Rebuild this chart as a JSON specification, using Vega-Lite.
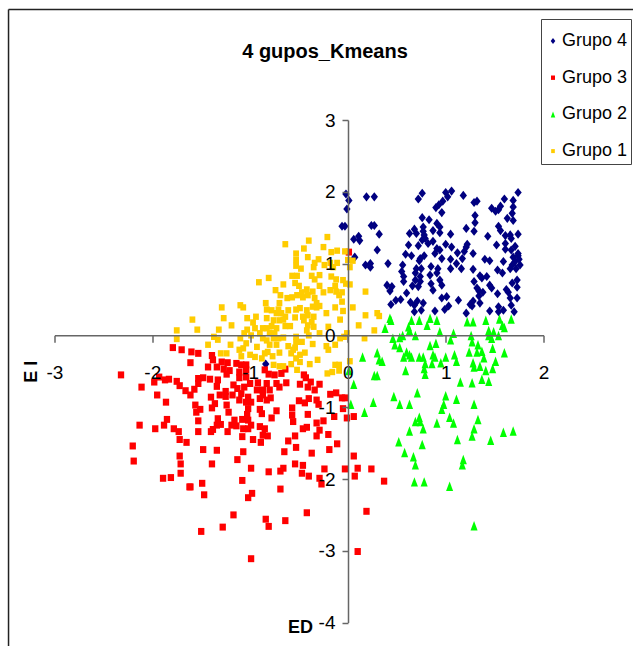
{"$schema":"https://vega.github.io/schema/vega-lite/v6.json","width":489,"height":502.6,"autosize":{"type":"none"},"padding":{"left":54.5,"top":120,"right":89.5,"bottom":23.4},"background":"white","config":{"view":{"stroke":null},"font":"Liberation Sans"},
"title":{"text":"4 gupos_Kmeans","font":"Liberation Sans","fontSize":20,"fontWeight":"bold","color":"black","anchor":"middle","dx":26,"offset":-53},
"datasets":{"pts":[
{"g":"Grupo 4","x":-0.02,"y":1.97},{"g":"Grupo 4","x":0.01,"y":1.88},{"g":"Grupo 4","x":-0.01,"y":1.76},{"g":"Grupo 4","x":0.19,"y":1.93},{"g":"Grupo 4","x":0.27,"y":1.93},{"g":"Grupo 4","x":0.76,"y":1.98},{"g":"Grupo 4","x":0.72,"y":1.9},{"g":"Grupo 4","x":1.0,"y":1.99},{"g":"Grupo 4","x":1.06,"y":2.01},{"g":"Grupo 4","x":1.02,"y":1.93},{"g":"Grupo 4","x":1.18,"y":1.95},{"g":"Grupo 4","x":0.97,"y":1.87},{"g":"Grupo 4","x":0.93,"y":1.82},{"g":"Grupo 4","x":0.9,"y":1.78},{"g":"Grupo 4","x":0.96,"y":1.71},{"g":"Grupo 4","x":1.29,"y":1.85},{"g":"Grupo 4","x":1.32,"y":1.87},{"g":"Grupo 4","x":1.6,"y":1.9},{"g":"Grupo 4","x":1.69,"y":1.88},{"g":"Grupo 4","x":1.74,"y":1.99},{"g":"Grupo 4","x":1.47,"y":1.77},{"g":"Grupo 4","x":1.51,"y":1.73},{"g":"Grupo 4","x":1.56,"y":1.8},{"g":"Grupo 4","x":1.54,"y":1.75},{"g":"Grupo 4","x":1.69,"y":1.79},{"g":"Grupo 4","x":1.68,"y":1.7},{"g":"Grupo 4","x":1.63,"y":1.63},{"g":"Grupo 4","x":1.69,"y":1.6},{"g":"Grupo 4","x":1.3,"y":1.67},{"g":"Grupo 4","x":1.3,"y":1.57},{"g":"Grupo 4","x":0.76,"y":1.64},{"g":"Grupo 4","x":0.83,"y":1.61},{"g":"Grupo 4","x":0.91,"y":1.56},{"g":"Grupo 4","x":0.94,"y":1.51},{"g":"Grupo 4","x":0.77,"y":1.51},{"g":"Grupo 4","x":0.68,"y":1.48},{"g":"Grupo 4","x":0.63,"y":1.42},{"g":"Grupo 4","x":0.7,"y":1.42},{"g":"Grupo 4","x":0.87,"y":1.46},{"g":"Grupo 4","x":0.94,"y":1.43},{"g":"Grupo 4","x":1.05,"y":1.41},{"g":"Grupo 4","x":1.21,"y":1.49},{"g":"Grupo 4","x":1.29,"y":1.45},{"g":"Grupo 4","x":1.54,"y":1.52},{"g":"Grupo 4","x":1.56,"y":1.46},{"g":"Grupo 4","x":1.43,"y":1.38},{"g":"Grupo 4","x":1.74,"y":1.41},{"g":"Grupo 4","x":1.66,"y":1.4},{"g":"Grupo 4","x":1.61,"y":1.39},{"g":"Grupo 4","x":1.67,"y":1.35},{"g":"Grupo 4","x":1.52,"y":1.26},{"g":"Grupo 4","x":1.61,"y":1.28},{"g":"Grupo 4","x":1.61,"y":1.2},{"g":"Grupo 4","x":-0.06,"y":1.52},{"g":"Grupo 4","x":-0.03,"y":1.52},{"g":"Grupo 4","x":0.24,"y":1.53},{"g":"Grupo 4","x":0.27,"y":1.53},{"g":"Grupo 4","x":0.32,"y":1.41},{"g":"Grupo 4","x":0.06,"y":1.34},{"g":"Grupo 4","x":0.11,"y":1.38},{"g":"Grupo 4","x":0.12,"y":1.32},{"g":"Grupo 4","x":0.3,"y":1.19},{"g":"Grupo 4","x":0.07,"y":1.09},{"g":"Grupo 4","x":0.18,"y":0.98},{"g":"Grupo 4","x":0.23,"y":1.0},{"g":"Grupo 4","x":0.23,"y":0.95},{"g":"Grupo 4","x":0.41,"y":1.0},{"g":"Grupo 4","x":0.4,"y":0.7},{"g":"Grupo 4","x":0.45,"y":0.68},{"g":"Grupo 4","x":0.43,"y":0.62},{"g":"Grupo 4","x":0.44,"y":0.43},{"g":"Grupo 4","x":0.49,"y":0.49},{"g":"Grupo 4","x":0.54,"y":0.5},{"g":"Grupo 4","x":0.6,"y":0.59},{"g":"Grupo 4","x":0.64,"y":0.46},{"g":"Grupo 4","x":0.68,"y":0.42},{"g":"Grupo 4","x":0.68,"y":0.33},{"g":"Grupo 4","x":0.71,"y":0.48},{"g":"Grupo 4","x":0.77,"y":0.45},{"g":"Grupo 4","x":0.75,"y":0.35},{"g":"Grupo 4","x":0.89,"y":0.34},{"g":"Grupo 4","x":0.96,"y":0.52},{"g":"Grupo 4","x":1.01,"y":0.54},{"g":"Grupo 4","x":1.03,"y":0.41},{"g":"Grupo 4","x":0.99,"y":0.36},{"g":"Grupo 4","x":1.13,"y":0.49},{"g":"Grupo 4","x":1.25,"y":0.43},{"g":"Grupo 4","x":1.28,"y":0.48},{"g":"Grupo 4","x":1.27,"y":0.41},{"g":"Grupo 4","x":1.21,"y":0.31},{"g":"Grupo 4","x":1.35,"y":0.45},{"g":"Grupo 4","x":1.45,"y":0.34},{"g":"Grupo 4","x":1.54,"y":0.4},{"g":"Grupo 4","x":1.59,"y":0.35},{"g":"Grupo 4","x":1.54,"y":0.33},{"g":"Grupo 4","x":1.7,"y":0.33},{"g":"Grupo 4","x":1.67,"y":0.42},{"g":"Grupo 4","x":1.66,"y":0.52},{"g":"Grupo 4","x":1.73,"y":0.52},{"g":"Grupo 4","x":1.53,"y":0.58},{"g":"Grupo 4","x":1.62,"y":0.64},{"g":"Grupo 4","x":1.64,"y":0.6},{"g":"Grupo 4","x":1.73,"y":0.67},{"g":"Grupo 4","x":1.68,"y":0.73},{"g":"Grupo 4","x":1.73,"y":0.77},{"g":"Grupo 4","x":1.32,"y":0.66},{"g":"Grupo 4","x":1.34,"y":0.62},{"g":"Grupo 4","x":1.38,"y":0.6},{"g":"Grupo 4","x":1.34,"y":0.55},{"g":"Grupo 4","x":1.45,"y":0.7},{"g":"Grupo 4","x":1.47,"y":0.66},{"g":"Grupo 4","x":1.42,"y":0.82},{"g":"Grupo 4","x":1.35,"y":0.83},{"g":"Grupo 4","x":1.37,"y":0.8},{"g":"Grupo 4","x":1.29,"y":0.75},{"g":"Grupo 4","x":1.28,"y":0.92},{"g":"Grupo 4","x":1.16,"y":0.93},{"g":"Grupo 4","x":1.11,"y":1.0},{"g":"Grupo 4","x":1.05,"y":0.93},{"g":"Grupo 4","x":1.05,"y":1.06},{"g":"Grupo 4","x":1.17,"y":1.07},{"g":"Grupo 4","x":1.12,"y":1.15},{"g":"Grupo 4","x":1.19,"y":1.17},{"g":"Grupo 4","x":1.22,"y":1.27},{"g":"Grupo 4","x":1.21,"y":1.23},{"g":"Grupo 4","x":1.28,"y":1.14},{"g":"Grupo 4","x":1.0,"y":1.27},{"g":"Grupo 4","x":1.06,"y":1.23},{"g":"Grupo 4","x":0.91,"y":1.21},{"g":"Grupo 4","x":0.89,"y":1.14},{"g":"Grupo 4","x":0.94,"y":1.19},{"g":"Grupo 4","x":0.96,"y":1.07},{"g":"Grupo 4","x":0.87,"y":1.31},{"g":"Grupo 4","x":0.82,"y":1.28},{"g":"Grupo 4","x":0.79,"y":1.35},{"g":"Grupo 4","x":0.76,"y":1.33},{"g":"Grupo 4","x":0.72,"y":1.25},{"g":"Grupo 4","x":0.62,"y":1.26},{"g":"Grupo 4","x":0.59,"y":1.13},{"g":"Grupo 4","x":0.65,"y":1.11},{"g":"Grupo 4","x":0.74,"y":1.07},{"g":"Grupo 4","x":0.78,"y":1.11},{"g":"Grupo 4","x":0.73,"y":1.04},{"g":"Grupo 4","x":0.56,"y":0.98},{"g":"Grupo 4","x":0.55,"y":0.89},{"g":"Grupo 4","x":0.57,"y":0.82},{"g":"Grupo 4","x":0.57,"y":0.75},{"g":"Grupo 4","x":0.7,"y":0.93},{"g":"Grupo 4","x":0.75,"y":0.93},{"g":"Grupo 4","x":0.69,"y":0.87},{"g":"Grupo 4","x":0.74,"y":0.82},{"g":"Grupo 4","x":0.69,"y":0.77},{"g":"Grupo 4","x":0.74,"y":0.75},{"g":"Grupo 4","x":0.66,"y":0.69},{"g":"Grupo 4","x":0.72,"y":0.68},{"g":"Grupo 4","x":0.85,"y":0.96},{"g":"Grupo 4","x":0.84,"y":0.84},{"g":"Grupo 4","x":0.92,"y":0.93},{"g":"Grupo 4","x":0.91,"y":0.87},{"g":"Grupo 4","x":0.94,"y":0.77},{"g":"Grupo 4","x":0.96,"y":0.7},{"g":"Grupo 4","x":0.85,"y":0.72},{"g":"Grupo 4","x":0.87,"y":0.63},{"g":"Grupo 4","x":1.4,"y":1.06},{"g":"Grupo 4","x":1.45,"y":1.04},{"g":"Grupo 4","x":1.59,"y":1.03},{"g":"Grupo 4","x":1.53,"y":0.91},{"g":"Grupo 4","x":1.58,"y":0.87},{"g":"Grupo 4","x":1.66,"y":0.93},{"g":"Grupo 4","x":1.71,"y":1.24},{"g":"Grupo 4","x":1.67,"y":1.19},{"g":"Grupo 4","x":1.74,"y":1.14},{"g":"Grupo 4","x":1.69,"y":1.09},{"g":"Grupo 4","x":1.75,"y":1.06},{"g":"Grupo 4","x":1.71,"y":1.03},{"g":"Grupo 4","x":1.76,"y":0.98},{"g":"Grupo 4","x":1.72,"y":0.93},{"g":"Grupo 4","x":1.68,"y":0.98},{"g":"Grupo 4","x":1.74,"y":1.11},{"g":"Grupo 4","x":0.77,"y":1.45},{"g":"Grupo 4","x":0.78,"y":1.4},{"g":"Grupo 4","x":-0.84,"y":-0.4},
{"g":"Grupo 3","x":0.01,"y":1.16},{"g":"Grupo 3","x":-2.32,"y":-0.55},{"g":"Grupo 3","x":-2.11,"y":-0.72},{"g":"Grupo 3","x":-1.79,"y":-0.17},{"g":"Grupo 3","x":-1.7,"y":-0.2},{"g":"Grupo 3","x":-1.6,"y":-0.23},{"g":"Grupo 3","x":-1.53,"y":-0.25},{"g":"Grupo 3","x":-1.61,"y":-0.38},{"g":"Grupo 3","x":-1.39,"y":-0.28},{"g":"Grupo 3","x":-1.38,"y":-0.34},{"g":"Grupo 3","x":-1.43,"y":-0.44},{"g":"Grupo 3","x":-1.34,"y":-0.44},{"g":"Grupo 3","x":-1.29,"y":-0.37},{"g":"Grupo 3","x":-1.23,"y":-0.38},{"g":"Grupo 3","x":-1.27,"y":-0.47},{"g":"Grupo 3","x":-1.21,"y":-0.49},{"g":"Grupo 3","x":-1.24,"y":-0.54},{"g":"Grupo 3","x":-1.14,"y":-0.39},{"g":"Grupo 3","x":-1.09,"y":-0.41},{"g":"Grupo 3","x":-1.04,"y":-0.41},{"g":"Grupo 3","x":-1.11,"y":-0.51},{"g":"Grupo 3","x":-1.04,"y":-0.48},{"g":"Grupo 3","x":-1.11,"y":-0.59},{"g":"Grupo 3","x":-1.04,"y":-0.58},{"g":"Grupo 3","x":-0.85,"y":-0.48},{"g":"Grupo 3","x":-0.81,"y":-0.54},{"g":"Grupo 3","x":-0.75,"y":-0.55},{"g":"Grupo 3","x":-0.68,"y":-0.53},{"g":"Grupo 3","x":-0.64,"y":-0.47},{"g":"Grupo 3","x":-0.45,"y":-0.55},{"g":"Grupo 3","x":-0.43,"y":-0.59},{"g":"Grupo 3","x":-1.98,"y":-0.65},{"g":"Grupo 3","x":-1.93,"y":-0.58},{"g":"Grupo 3","x":-1.87,"y":-0.62},{"g":"Grupo 3","x":-1.83,"y":-0.61},{"g":"Grupo 3","x":-1.75,"y":-0.64},{"g":"Grupo 3","x":-1.72,"y":-0.7},{"g":"Grupo 3","x":-1.66,"y":-0.77},{"g":"Grupo 3","x":-1.61,"y":-0.83},{"g":"Grupo 3","x":-1.57,"y":-0.75},{"g":"Grupo 3","x":-1.53,"y":-0.67},{"g":"Grupo 3","x":-1.53,"y":-0.6},{"g":"Grupo 3","x":-1.48,"y":-0.59},{"g":"Grupo 3","x":-1.41,"y":-0.61},{"g":"Grupo 3","x":-1.33,"y":-0.62},{"g":"Grupo 3","x":-1.34,"y":-0.71},{"g":"Grupo 3","x":-1.17,"y":-0.69},{"g":"Grupo 3","x":-1.25,"y":-0.78},{"g":"Grupo 3","x":-1.13,"y":-0.74},{"g":"Grupo 3","x":-1.06,"y":-0.72},{"g":"Grupo 3","x":-1.0,"y":-0.67},{"g":"Grupo 3","x":-0.92,"y":-0.66},{"g":"Grupo 3","x":-0.83,"y":-0.67},{"g":"Grupo 3","x":-0.93,"y":-0.76},{"g":"Grupo 3","x":-0.87,"y":-0.76},{"g":"Grupo 3","x":-0.8,"y":-0.76},{"g":"Grupo 3","x":-0.73,"y":-0.67},{"g":"Grupo 3","x":-0.7,"y":-0.72},{"g":"Grupo 3","x":-0.63,"y":-0.66},{"g":"Grupo 3","x":-0.49,"y":-0.68},{"g":"Grupo 3","x":-0.41,"y":-0.72},{"g":"Grupo 3","x":-0.38,"y":-0.65},{"g":"Grupo 3","x":-0.29,"y":-0.68},{"g":"Grupo 3","x":-0.34,"y":-0.76},{"g":"Grupo 3","x":-1.95,"y":-0.83},{"g":"Grupo 3","x":-1.86,"y":-0.93},{"g":"Grupo 3","x":-1.4,"y":-0.86},{"g":"Grupo 3","x":-1.36,"y":-0.95},{"g":"Grupo 3","x":-1.31,"y":-0.83},{"g":"Grupo 3","x":-1.25,"y":-0.85},{"g":"Grupo 3","x":-1.18,"y":-0.83},{"g":"Grupo 3","x":-1.09,"y":-0.81},{"g":"Grupo 3","x":-1.11,"y":-0.9},{"g":"Grupo 3","x":-1.02,"y":-0.86},{"g":"Grupo 3","x":-1.04,"y":-0.93},{"g":"Grupo 3","x":-0.99,"y":-0.93},{"g":"Grupo 3","x":-0.9,"y":-0.88},{"g":"Grupo 3","x":-0.83,"y":-0.9},{"g":"Grupo 3","x":-0.79,"y":-0.87},{"g":"Grupo 3","x":-0.87,"y":-0.83},{"g":"Grupo 3","x":-1.56,"y":-0.97},{"g":"Grupo 3","x":-1.51,"y":-1.03},{"g":"Grupo 3","x":-1.55,"y":-1.07},{"g":"Grupo 3","x":-1.39,"y":-1.01},{"g":"Grupo 3","x":-1.24,"y":-0.97},{"g":"Grupo 3","x":-1.22,"y":-1.07},{"g":"Grupo 3","x":-1.02,"y":-1.02},{"g":"Grupo 3","x":-1.03,"y":-1.1},{"g":"Grupo 3","x":-0.9,"y":-1.03},{"g":"Grupo 3","x":-0.88,"y":-1.09},{"g":"Grupo 3","x":-0.73,"y":-1.05},{"g":"Grupo 3","x":-0.78,"y":-1.15},{"g":"Grupo 3","x":-0.5,"y":-0.91},{"g":"Grupo 3","x":-0.44,"y":-0.94},{"g":"Grupo 3","x":-0.4,"y":-0.88},{"g":"Grupo 3","x":-0.32,"y":-0.9},{"g":"Grupo 3","x":-0.3,"y":-0.96},{"g":"Grupo 3","x":-0.18,"y":-0.82},{"g":"Grupo 3","x":-0.12,"y":-0.8},{"g":"Grupo 3","x":-0.06,"y":-0.87},{"g":"Grupo 3","x":-0.03,"y":-0.87},{"g":"Grupo 3","x":-0.05,"y":-1.02},{"g":"Grupo 3","x":-0.14,"y":-1.13},{"g":"Grupo 3","x":-0.01,"y":-1.15},{"g":"Grupo 3","x":0.06,"y":-1.13},{"g":"Grupo 3","x":-0.25,"y":-1.19},{"g":"Grupo 3","x":-0.32,"y":-1.22},{"g":"Grupo 3","x":-0.41,"y":-1.1},{"g":"Grupo 3","x":-0.57,"y":-1.01},{"g":"Grupo 3","x":-0.57,"y":-1.11},{"g":"Grupo 3","x":-0.56,"y":-1.2},{"g":"Grupo 3","x":-2.13,"y":-1.25},{"g":"Grupo 3","x":-1.97,"y":-1.3},{"g":"Grupo 3","x":-1.88,"y":-1.25},{"g":"Grupo 3","x":-1.85,"y":-1.17},{"g":"Grupo 3","x":-1.78,"y":-1.3},{"g":"Grupo 3","x":-1.73,"y":-1.34},{"g":"Grupo 3","x":-1.72,"y":-1.45},{"g":"Grupo 3","x":-1.65,"y":-1.49},{"g":"Grupo 3","x":-1.53,"y":-1.19},{"g":"Grupo 3","x":-1.53,"y":-1.34},{"g":"Grupo 3","x":-1.38,"y":-1.31},{"g":"Grupo 3","x":-1.4,"y":-1.34},{"g":"Grupo 3","x":-1.33,"y":-1.16},{"g":"Grupo 3","x":-1.34,"y":-1.25},{"g":"Grupo 3","x":-1.3,"y":-1.24},{"g":"Grupo 3","x":-1.23,"y":-1.34},{"g":"Grupo 3","x":-1.16,"y":-1.18},{"g":"Grupo 3","x":-1.19,"y":-1.25},{"g":"Grupo 3","x":-1.14,"y":-1.26},{"g":"Grupo 3","x":-1.08,"y":-1.17},{"g":"Grupo 3","x":-1.02,"y":-1.18},{"g":"Grupo 3","x":-1.07,"y":-1.3},{"g":"Grupo 3","x":-1.02,"y":-1.3},{"g":"Grupo 3","x":-0.99,"y":-1.25},{"g":"Grupo 3","x":-1.08,"y":-1.41},{"g":"Grupo 3","x":-0.97,"y":-1.45},{"g":"Grupo 3","x":-0.9,"y":-1.27},{"g":"Grupo 3","x":-0.85,"y":-1.3},{"g":"Grupo 3","x":-0.87,"y":-1.39},{"g":"Grupo 3","x":-0.82,"y":-1.4},{"g":"Grupo 3","x":-0.89,"y":-1.49},{"g":"Grupo 3","x":-0.61,"y":-1.47},{"g":"Grupo 3","x":-0.54,"y":-1.4},{"g":"Grupo 3","x":-0.46,"y":-1.3},{"g":"Grupo 3","x":-0.42,"y":-1.28},{"g":"Grupo 3","x":-0.29,"y":-1.32},{"g":"Grupo 3","x":-0.32,"y":-1.4},{"g":"Grupo 3","x":-0.2,"y":-1.38},{"g":"Grupo 3","x":-0.11,"y":-1.51},{"g":"Grupo 3","x":-0.19,"y":-1.59},{"g":"Grupo 3","x":-0.37,"y":-1.64},{"g":"Grupo 3","x":-0.53,"y":-1.56},{"g":"Grupo 3","x":-0.65,"y":-1.62},{"g":"Grupo 3","x":-1.07,"y":-1.62},{"g":"Grupo 3","x":-1.13,"y":-1.73},{"g":"Grupo 3","x":-1.48,"y":-1.59},{"g":"Grupo 3","x":-1.34,"y":-1.6},{"g":"Grupo 3","x":-2.2,"y":-1.54},{"g":"Grupo 3","x":-2.19,"y":-1.75},{"g":"Grupo 3","x":-1.72,"y":-1.68},{"g":"Grupo 3","x":-1.71,"y":-1.79},{"g":"Grupo 3","x":-1.71,"y":-1.92},{"g":"Grupo 3","x":-1.39,"y":-1.79},{"g":"Grupo 3","x":-1.89,"y":-1.99},{"g":"Grupo 3","x":-1.81,"y":-1.98},{"g":"Grupo 3","x":-1.62,"y":-2.11},{"g":"Grupo 3","x":-1.61,"y":-2.11},{"g":"Grupo 3","x":-1.49,"y":-2.06},{"g":"Grupo 3","x":-1.47,"y":-2.22},{"g":"Grupo 3","x":-0.99,"y":-1.85},{"g":"Grupo 3","x":-1.08,"y":-2.02},{"g":"Grupo 3","x":-1.02,"y":-2.26},{"g":"Grupo 3","x":-0.98,"y":-2.2},{"g":"Grupo 3","x":-0.81,"y":-1.9},{"g":"Grupo 3","x":-0.69,"y":-1.89},{"g":"Grupo 3","x":-0.66,"y":-1.85},{"g":"Grupo 3","x":-0.69,"y":-2.14},{"g":"Grupo 3","x":-0.54,"y":-1.79},{"g":"Grupo 3","x":-0.46,"y":-1.81},{"g":"Grupo 3","x":-0.47,"y":-1.92},{"g":"Grupo 3","x":-0.4,"y":-1.96},{"g":"Grupo 3","x":-0.29,"y":-1.99},{"g":"Grupo 3","x":-0.27,"y":-2.07},{"g":"Grupo 3","x":-0.24,"y":-1.86},{"g":"Grupo 3","x":-0.03,"y":-1.86},{"g":"Grupo 3","x":0.06,"y":-1.68},{"g":"Grupo 3","x":0.1,"y":-1.85},{"g":"Grupo 3","x":0.07,"y":-1.96},{"g":"Grupo 3","x":0.24,"y":-1.86},{"g":"Grupo 3","x":0.37,"y":-2.03},{"g":"Grupo 3","x":0.19,"y":-2.45},{"g":"Grupo 3","x":-0.42,"y":-2.47},{"g":"Grupo 3","x":-1.17,"y":-2.5},{"g":"Grupo 3","x":-0.84,"y":-2.56},{"g":"Grupo 3","x":-0.81,"y":-2.66},{"g":"Grupo 3","x":-0.64,"y":-2.58},{"g":"Grupo 3","x":-1.28,"y":-2.67},{"g":"Grupo 3","x":-1.5,"y":-2.73},{"g":"Grupo 3","x":-0.99,"y":-3.11},{"g":"Grupo 3","x":0.1,"y":-3.01},
{"g":"Grupo 2","x":0.43,"y":0.24},{"g":"Grupo 2","x":0.44,"y":0.21},{"g":"Grupo 2","x":0.38,"y":0.1},{"g":"Grupo 2","x":0.65,"y":0.21},{"g":"Grupo 2","x":0.62,"y":0.12},{"g":"Grupo 2","x":0.63,"y":0.07},{"g":"Grupo 2","x":0.73,"y":0.21},{"g":"Grupo 2","x":0.84,"y":0.24},{"g":"Grupo 2","x":0.81,"y":0.14},{"g":"Grupo 2","x":0.91,"y":0.21},{"g":"Grupo 2","x":0.69,"y":0.0},{"g":"Grupo 2","x":0.94,"y":0.05},{"g":"Grupo 2","x":1.08,"y":0.03},{"g":"Grupo 2","x":1.05,"y":-0.06},{"g":"Grupo 2","x":1.22,"y":0.19},{"g":"Grupo 2","x":1.28,"y":0.19},{"g":"Grupo 2","x":1.41,"y":0.21},{"g":"Grupo 2","x":1.55,"y":0.23},{"g":"Grupo 2","x":1.58,"y":0.14},{"g":"Grupo 2","x":1.6,"y":0.11},{"g":"Grupo 2","x":1.67,"y":0.23},{"g":"Grupo 2","x":1.44,"y":0.07},{"g":"Grupo 2","x":1.44,"y":0.0},{"g":"Grupo 2","x":1.49,"y":0.05},{"g":"Grupo 2","x":1.47,"y":-0.04},{"g":"Grupo 2","x":1.54,"y":0.0},{"g":"Grupo 2","x":1.26,"y":0.0},{"g":"Grupo 2","x":1.27,"y":-0.09},{"g":"Grupo 2","x":0.46,"y":-0.04},{"g":"Grupo 2","x":0.53,"y":-0.03},{"g":"Grupo 2","x":0.56,"y":0.0},{"g":"Grupo 2","x":0.48,"y":-0.13},{"g":"Grupo 2","x":0.53,"y":-0.17},{"g":"Grupo 2","x":0.84,"y":-0.14},{"g":"Grupo 2","x":0.9,"y":-0.11},{"g":"Grupo 2","x":1.33,"y":-0.13},{"g":"Grupo 2","x":1.24,"y":-0.23},{"g":"Grupo 2","x":1.32,"y":-0.23},{"g":"Grupo 2","x":1.37,"y":-0.22},{"g":"Grupo 2","x":1.48,"y":-0.18},{"g":"Grupo 2","x":1.6,"y":-0.24},{"g":"Grupo 2","x":0.15,"y":-0.3},{"g":"Grupo 2","x":0.3,"y":-0.24},{"g":"Grupo 2","x":0.32,"y":-0.34},{"g":"Grupo 2","x":0.35,"y":-0.36},{"g":"Grupo 2","x":0.57,"y":-0.3},{"g":"Grupo 2","x":0.6,"y":-0.23},{"g":"Grupo 2","x":0.63,"y":-0.27},{"g":"Grupo 2","x":0.65,"y":-0.3},{"g":"Grupo 2","x":0.73,"y":-0.3},{"g":"Grupo 2","x":0.77,"y":-0.3},{"g":"Grupo 2","x":0.87,"y":-0.27},{"g":"Grupo 2","x":0.89,"y":-0.3},{"g":"Grupo 2","x":0.86,"y":-0.39},{"g":"Grupo 2","x":0.79,"y":-0.39},{"g":"Grupo 2","x":1.0,"y":-0.3},{"g":"Grupo 2","x":0.95,"y":-0.38},{"g":"Grupo 2","x":1.09,"y":-0.27},{"g":"Grupo 2","x":1.11,"y":-0.36},{"g":"Grupo 2","x":1.28,"y":-0.38},{"g":"Grupo 2","x":1.29,"y":-0.44},{"g":"Grupo 2","x":1.35,"y":-0.43},{"g":"Grupo 2","x":1.39,"y":-0.31},{"g":"Grupo 2","x":1.41,"y":-0.49},{"g":"Grupo 2","x":1.51,"y":-0.36},{"g":"Grupo 2","x":1.48,"y":-0.46},{"g":"Grupo 2","x":0.78,"y":-0.46},{"g":"Grupo 2","x":0.59,"y":-0.49},{"g":"Grupo 2","x":0.27,"y":-0.56},{"g":"Grupo 2","x":0.3,"y":-0.56},{"g":"Grupo 2","x":0.79,"y":-0.54},{"g":"Grupo 2","x":1.37,"y":-0.61},{"g":"Grupo 2","x":1.44,"y":-0.64},{"g":"Grupo 2","x":1.15,"y":-0.65},{"g":"Grupo 2","x":1.27,"y":-0.66},{"g":"Grupo 2","x":0.06,"y":-0.68},{"g":"Grupo 2","x":0.71,"y":-0.8},{"g":"Grupo 2","x":0.47,"y":-0.85},{"g":"Grupo 2","x":1.0,"y":-0.84},{"g":"Grupo 2","x":1.11,"y":-0.89},{"g":"Grupo 2","x":0.26,"y":-0.93},{"g":"Grupo 2","x":0.03,"y":-0.96},{"g":"Grupo 2","x":0.53,"y":-0.96},{"g":"Grupo 2","x":0.63,"y":-0.96},{"g":"Grupo 2","x":0.98,"y":-0.96},{"g":"Grupo 2","x":0.96,"y":-1.03},{"g":"Grupo 2","x":1.29,"y":-0.96},{"g":"Grupo 2","x":0.17,"y":-1.07},{"g":"Grupo 2","x":1.04,"y":-1.14},{"g":"Grupo 2","x":0.73,"y":-1.14},{"g":"Grupo 2","x":0.69,"y":-1.2},{"g":"Grupo 2","x":0.74,"y":-1.2},{"g":"Grupo 2","x":1.08,"y":-1.22},{"g":"Grupo 2","x":0.91,"y":-1.22},{"g":"Grupo 2","x":1.33,"y":-1.17},{"g":"Grupo 2","x":0.77,"y":-1.3},{"g":"Grupo 2","x":1.29,"y":-1.3},{"g":"Grupo 2","x":0.63,"y":-1.33},{"g":"Grupo 2","x":1.27,"y":-1.4},{"g":"Grupo 2","x":1.59,"y":-1.35},{"g":"Grupo 2","x":1.69,"y":-1.33},{"g":"Grupo 2","x":1.12,"y":-1.45},{"g":"Grupo 2","x":1.46,"y":-1.46},{"g":"Grupo 2","x":0.52,"y":-1.48},{"g":"Grupo 2","x":0.76,"y":-1.52},{"g":"Grupo 2","x":0.58,"y":-1.63},{"g":"Grupo 2","x":0.67,"y":-1.69},{"g":"Grupo 2","x":0.69,"y":-1.8},{"g":"Grupo 2","x":1.18,"y":-1.73},{"g":"Grupo 2","x":1.17,"y":-1.8},{"g":"Grupo 2","x":0.68,"y":-2.04},{"g":"Grupo 2","x":0.78,"y":-2.04},{"g":"Grupo 2","x":1.04,"y":-2.1},{"g":"Grupo 2","x":1.29,"y":-2.65},{"g":"Grupo 2","x":0.01,"y":-0.49},
{"g":"Grupo 1","x":-0.21,"y":1.37},{"g":"Grupo 1","x":-0.64,"y":1.27},{"g":"Grupo 1","x":-0.4,"y":1.32},{"g":"Grupo 1","x":-0.45,"y":1.21},{"g":"Grupo 1","x":-0.25,"y":1.23},{"g":"Grupo 1","x":-0.53,"y":1.14},{"g":"Grupo 1","x":-0.41,"y":1.09},{"g":"Grupo 1","x":-0.3,"y":1.06},{"g":"Grupo 1","x":-0.34,"y":1.01},{"g":"Grupo 1","x":-0.17,"y":1.16},{"g":"Grupo 1","x":-0.11,"y":1.18},{"g":"Grupo 1","x":-0.03,"y":1.17},{"g":"Grupo 1","x":0.0,"y":1.05},{"g":"Grupo 1","x":0.05,"y":1.04},{"g":"Grupo 1","x":0.02,"y":0.95},{"g":"Grupo 1","x":-0.24,"y":0.98},{"g":"Grupo 1","x":-0.18,"y":1.01},{"g":"Grupo 1","x":-0.11,"y":1.01},{"g":"Grupo 1","x":-0.15,"y":0.95},{"g":"Grupo 1","x":-0.53,"y":1.05},{"g":"Grupo 1","x":-0.53,"y":0.97},{"g":"Grupo 1","x":-0.48,"y":0.93},{"g":"Grupo 1","x":-0.35,"y":0.95},{"g":"Grupo 1","x":-0.57,"y":0.83},{"g":"Grupo 1","x":-0.52,"y":0.83},{"g":"Grupo 1","x":-0.54,"y":0.73},{"g":"Grupo 1","x":-0.5,"y":0.69},{"g":"Grupo 1","x":-0.37,"y":0.83},{"g":"Grupo 1","x":-0.29,"y":0.84},{"g":"Grupo 1","x":-0.34,"y":0.78},{"g":"Grupo 1","x":-0.17,"y":0.82},{"g":"Grupo 1","x":-0.12,"y":0.78},{"g":"Grupo 1","x":-0.05,"y":0.77},{"g":"Grupo 1","x":-0.91,"y":0.74},{"g":"Grupo 1","x":-0.81,"y":0.8},{"g":"Grupo 1","x":-0.66,"y":0.71},{"g":"Grupo 1","x":-0.74,"y":0.63},{"g":"Grupo 1","x":-0.29,"y":0.69},{"g":"Grupo 1","x":-0.25,"y":0.6},{"g":"Grupo 1","x":-0.18,"y":0.63},{"g":"Grupo 1","x":-0.13,"y":0.69},{"g":"Grupo 1","x":-0.12,"y":0.61},{"g":"Grupo 1","x":-0.06,"y":0.6},{"g":"Grupo 1","x":-0.09,"y":0.56},{"g":"Grupo 1","x":-0.02,"y":0.72},{"g":"Grupo 1","x":0.02,"y":0.71},{"g":"Grupo 1","x":0.18,"y":0.61},{"g":"Grupo 1","x":-0.69,"y":0.56},{"g":"Grupo 1","x":-0.62,"y":0.52},{"g":"Grupo 1","x":-0.57,"y":0.53},{"g":"Grupo 1","x":-0.52,"y":0.56},{"g":"Grupo 1","x":-0.47,"y":0.6},{"g":"Grupo 1","x":-0.42,"y":0.64},{"g":"Grupo 1","x":-0.46,"y":0.53},{"g":"Grupo 1","x":-0.41,"y":0.56},{"g":"Grupo 1","x":-0.36,"y":0.61},{"g":"Grupo 1","x":-0.34,"y":0.52},{"g":"Grupo 1","x":-0.32,"y":0.45},{"g":"Grupo 1","x":-0.06,"y":0.47},{"g":"Grupo 1","x":-0.13,"y":0.39},{"g":"Grupo 1","x":-0.05,"y":0.34},{"g":"Grupo 1","x":0.05,"y":0.39},{"g":"Grupo 1","x":-0.29,"y":0.41},{"g":"Grupo 1","x":-0.36,"y":0.4},{"g":"Grupo 1","x":-0.84,"y":0.45},{"g":"Grupo 1","x":-0.83,"y":0.36},{"g":"Grupo 1","x":-0.78,"y":0.35},{"g":"Grupo 1","x":-1.29,"y":0.39},{"g":"Grupo 1","x":-1.1,"y":0.42},{"g":"Grupo 1","x":-1.07,"y":0.39},{"g":"Grupo 1","x":-1.27,"y":0.24},{"g":"Grupo 1","x":-1.59,"y":0.22},{"g":"Grupo 1","x":-1.19,"y":0.14},{"g":"Grupo 1","x":-1.54,"y":0.08},{"g":"Grupo 1","x":-1.75,"y":0.07},{"g":"Grupo 1","x":-1.75,"y":-0.05},{"g":"Grupo 1","x":-1.32,"y":0.08},{"g":"Grupo 1","x":-1.37,"y":-0.02},{"g":"Grupo 1","x":-1.33,"y":-0.06},{"g":"Grupo 1","x":-1.43,"y":-0.13},{"g":"Grupo 1","x":-1.03,"y":0.24},{"g":"Grupo 1","x":-0.94,"y":0.26},{"g":"Grupo 1","x":-0.97,"y":0.18},{"g":"Grupo 1","x":-0.95,"y":0.1},{"g":"Grupo 1","x":-0.83,"y":0.24},{"g":"Grupo 1","x":-1.03,"y":0.08},{"g":"Grupo 1","x":-1.06,"y":0.03},{"g":"Grupo 1","x":-1.1,"y":-0.04},{"g":"Grupo 1","x":-0.99,"y":0.0},{"g":"Grupo 1","x":-0.7,"y":0.45},{"g":"Grupo 1","x":-0.71,"y":0.36},{"g":"Grupo 1","x":-0.68,"y":0.31},{"g":"Grupo 1","x":-0.64,"y":0.26},{"g":"Grupo 1","x":-0.73,"y":0.31},{"g":"Grupo 1","x":-0.76,"y":0.21},{"g":"Grupo 1","x":-0.7,"y":0.21},{"g":"Grupo 1","x":-0.66,"y":0.22},{"g":"Grupo 1","x":-0.61,"y":0.35},{"g":"Grupo 1","x":-0.53,"y":0.36},{"g":"Grupo 1","x":-0.49,"y":0.38},{"g":"Grupo 1","x":-0.42,"y":0.35},{"g":"Grupo 1","x":-0.54,"y":0.25},{"g":"Grupo 1","x":-0.46,"y":0.26},{"g":"Grupo 1","x":-0.41,"y":0.28},{"g":"Grupo 1","x":-0.35,"y":0.26},{"g":"Grupo 1","x":-0.32,"y":0.39},{"g":"Grupo 1","x":-0.22,"y":0.31},{"g":"Grupo 1","x":-0.08,"y":0.22},{"g":"Grupo 1","x":-0.37,"y":0.19},{"g":"Grupo 1","x":-0.41,"y":0.14},{"g":"Grupo 1","x":-0.35,"y":0.12},{"g":"Grupo 1","x":-0.45,"y":0.21},{"g":"Grupo 1","x":-0.64,"y":0.13},{"g":"Grupo 1","x":-0.59,"y":0.13},{"g":"Grupo 1","x":-0.78,"y":0.13},{"g":"Grupo 1","x":-0.83,"y":0.1},{"g":"Grupo 1","x":-0.87,"y":0.1},{"g":"Grupo 1","x":-0.73,"y":0.1},{"g":"Grupo 1","x":-0.75,"y":0.03},{"g":"Grupo 1","x":-0.8,"y":0.04},{"g":"Grupo 1","x":-0.9,"y":0.03},{"g":"Grupo 1","x":-0.87,"y":-0.04},{"g":"Grupo 1","x":-0.76,"y":-0.04},{"g":"Grupo 1","x":-0.66,"y":-0.03},{"g":"Grupo 1","x":-0.73,"y":-0.13},{"g":"Grupo 1","x":-0.8,"y":-0.13},{"g":"Grupo 1","x":-0.93,"y":-0.16},{"g":"Grupo 1","x":-1.04,"y":-0.11},{"g":"Grupo 1","x":-1.07,"y":-0.18},{"g":"Grupo 1","x":-1.11,"y":-0.2},{"g":"Grupo 1","x":-1.09,"y":-0.29},{"g":"Grupo 1","x":-1.24,"y":-0.25},{"g":"Grupo 1","x":-1.3,"y":-0.25},{"g":"Grupo 1","x":-1.2,"y":-0.13},{"g":"Grupo 1","x":-1.0,"y":-0.27},{"g":"Grupo 1","x":-0.95,"y":-0.3},{"g":"Grupo 1","x":-0.88,"y":-0.32},{"g":"Grupo 1","x":-0.85,"y":-0.25},{"g":"Grupo 1","x":-0.82,"y":-0.23},{"g":"Grupo 1","x":-0.77,"y":-0.29},{"g":"Grupo 1","x":-0.7,"y":-0.24},{"g":"Grupo 1","x":-0.76,"y":-0.41},{"g":"Grupo 1","x":-0.7,"y":-0.43},{"g":"Grupo 1","x":-0.66,"y":-0.43},{"g":"Grupo 1","x":-0.61,"y":-0.15},{"g":"Grupo 1","x":-0.58,"y":-0.25},{"g":"Grupo 1","x":-0.56,"y":-0.2},{"g":"Grupo 1","x":-0.53,"y":-0.02},{"g":"Grupo 1","x":-0.53,"y":-0.09},{"g":"Grupo 1","x":-0.47,"y":-0.09},{"g":"Grupo 1","x":-0.54,"y":-0.17},{"g":"Grupo 1","x":-0.44,"y":-0.24},{"g":"Grupo 1","x":-0.49,"y":-0.27},{"g":"Grupo 1","x":-0.53,"y":-0.32},{"g":"Grupo 1","x":-0.49,"y":-0.37},{"g":"Grupo 1","x":-0.58,"y":-0.4},{"g":"Grupo 1","x":-0.52,"y":-0.48},{"g":"Grupo 1","x":-0.39,"y":-0.4},{"g":"Grupo 1","x":-0.31,"y":-0.34},{"g":"Grupo 1","x":-0.36,"y":-0.12},{"g":"Grupo 1","x":-0.4,"y":0.0},{"g":"Grupo 1","x":-0.29,"y":0.03},{"g":"Grupo 1","x":-0.2,"y":0.12},{"g":"Grupo 1","x":-0.22,"y":-0.15},{"g":"Grupo 1","x":-0.2,"y":-0.2},{"g":"Grupo 1","x":-0.13,"y":-0.13},{"g":"Grupo 1","x":-0.08,"y":-0.04},{"g":"Grupo 1","x":-0.04,"y":-0.02},{"g":"Grupo 1","x":-0.01,"y":0.03},{"g":"Grupo 1","x":0.11,"y":0.14},{"g":"Grupo 1","x":0.17,"y":-0.04},{"g":"Grupo 1","x":0.27,"y":0.07},{"g":"Grupo 1","x":0.18,"y":0.28},{"g":"Grupo 1","x":0.3,"y":0.31},{"g":"Grupo 1","x":0.32,"y":0.27},{"g":"Grupo 1","x":-0.13,"y":-0.41},{"g":"Grupo 1","x":-0.09,"y":-0.41},{"g":"Grupo 1","x":-0.16,"y":-0.51},{"g":"Grupo 1","x":-0.21,"y":-0.53},{"g":"Grupo 1","x":-0.09,"y":-0.49},{"g":"Grupo 1","x":0.02,"y":-0.36},{"g":"Grupo 1","x":-0.42,"y":0.07},{"g":"Grupo 1","x":-0.83,"y":-0.07},{"g":"Grupo 1","x":-0.71,"y":-0.04}
]},
"layer":[
{"data":{"name":"pts"},"mark":{"type":"point","filled":true,"size":160,"opacity":1,"strokeWidth":0},
"encoding":{
"x":{"field":"x","type":"quantitative","scale":{"domain":[-3,2],"nice":false,"zero":false},
"axis":{"orient":"bottom","offset":-287.3,"values":[-3,-2,-1,0,1,2],"labelExpr":"''+datum.value","grid":false,"domainColor":"#666666","domainWidth":1.5,"tickColor":"#666666","tickWidth":1.5,"tickSize":7,"labelFont":"Liberation Sans","labelFontSize":19,"labelColor":"black","labelPadding":21,"labelFlush":false,"labelOverlap":false,"zindex":1,"title":"E I","titleFont":"Liberation Sans","titleFontSize":18,"titleFontWeight":"bold","titleColor":"black","titleAngle":270,"titleX":-23,"titleY":36,"titleAlign":"center","titleBaseline":"middle"}},
"y":{"field":"y","type":"quantitative","scale":{"domain":[-4,3],"nice":false,"zero":false},
"axis":{"orient":"left","offset":-293.5,"values":[-4,-3,-2,-1,0,1,2,3],"labelExpr":"''+datum.value","grid":false,"domainColor":"#666666","domainWidth":1.5,"tickColor":"#666666","tickWidth":1.5,"tickSize":6,"labelFont":"Liberation Sans","labelFontSize":19,"labelColor":"black","labelPadding":7,"labelOverlap":false,"zindex":1,"title":"ED","titleFont":"Liberation Sans","titleFontSize":18,"titleFontWeight":"bold","titleColor":"black","titleAngle":0,"titleX":-48,"titleY":507,"titleAlign":"center","titleBaseline":"middle"}},
"color":{"field":"g","type":"nominal","scale":{"domain":["Grupo 4","Grupo 3","Grupo 2","Grupo 1"],"range":["#000080","#FF0000","#00FF00","#FFCC00"]},
"legend":{"title":" ","titleFontSize":10,"titlePadding":0,"orient":"none","legendX":486.5,"legendY":-101,"strokeColor":"#444444","fillColor":"white","padding":3,"symbolSize":64,"symbolOpacity":1,"labelFont":"Liberation Sans","labelFontSize":18,"labelColor":"black","rowPadding":18.7,"labelOffset":0,"symbolStrokeWidth":0}},
"shape":{"field":"g","type":"nominal","scale":{"domain":["Grupo 4","Grupo 3","Grupo 2","Grupo 1"],"range":["M0,-0.72L0.58,0L0,0.72L-0.58,0Z","M-0.5,-0.55L0.5,-0.55L0.5,0.55L-0.5,0.55Z","M0,-0.75L0.56,0.75L-0.56,0.75Z","M-0.46,-0.5L0.46,-0.5L0.46,0.5L-0.46,0.5Z"]}}
}},
{"data":{"values":[{}]},"mark":{"type":"rule","color":"#222222","strokeWidth":1.5,"clip":false},"encoding":{"x":{"datum":-3.47,"type":"quantitative"},"y":{"datum":-4.33,"type":"quantitative"},"y2":{"datum":4.54}}},
{"data":{"values":[{}]},"mark":{"type":"rule","color":"#222222","strokeWidth":1.5,"clip":false},"encoding":{"x":{"datum":-3.47,"type":"quantitative"},"x2":{"datum":2.92},"y":{"datum":4.54,"type":"quantitative"}}}
]}
